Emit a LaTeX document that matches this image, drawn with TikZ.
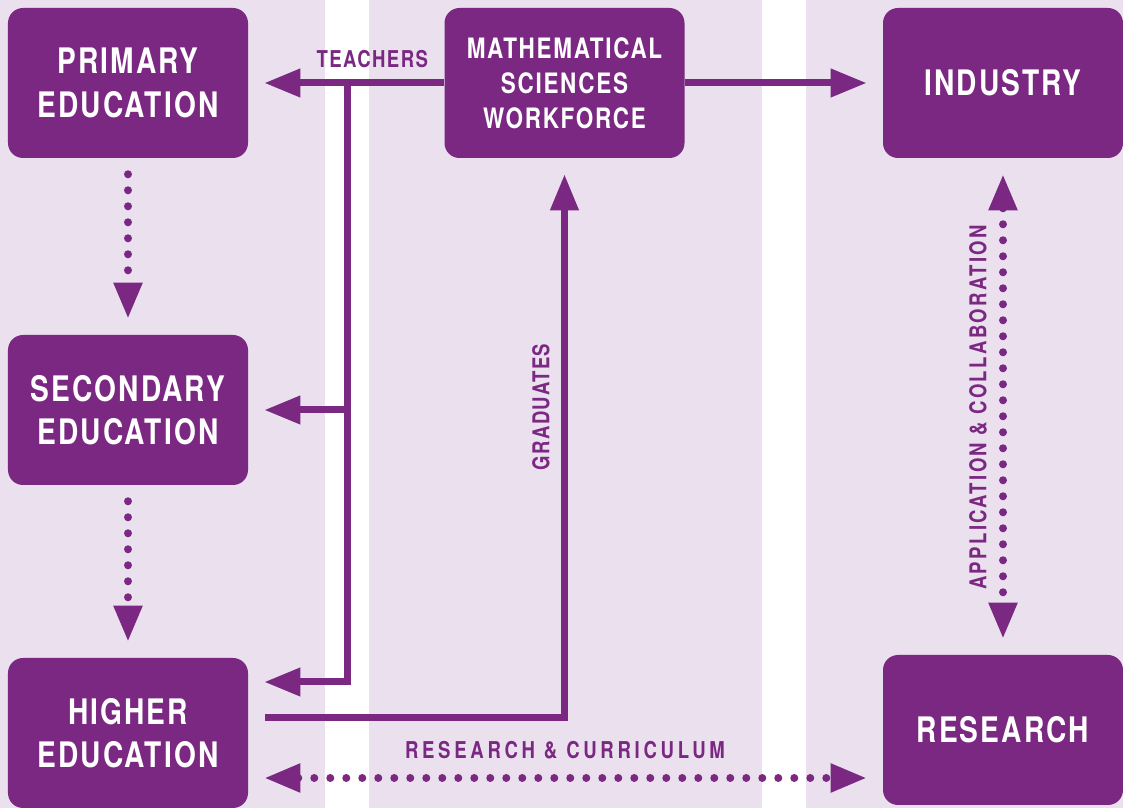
\documentclass[tikz,border=0pt]{standalone}
\usepackage{fontspec}
\usepackage{tikz}
\usetikzlibrary{
    arrows.meta,
    calc
}
\newfontfamily\boxfont{TeX Gyre Heros}[FakeStretch=0.8, LetterSpace=6]
\newfontfamily\labelfont{TeX Gyre Heros}[FakeStretch=0.8, LetterSpace=6]
\definecolor{mathpurple}{RGB}{122,40,130}
\definecolor{lavender}{RGB}{234,224,238}

\begin{document}
\begin{tikzpicture}[
        >={Triangle[length=0.9cm, width=0.675cm]},
        block/.style={fill=mathpurple, rounded corners=0.375cm, minimum width=6cm, minimum height=3.75cm,
            text=white, align=center, font=\boxfont\bfseries\fontsize{25}{31}\selectfont},
        flow/.style={draw=mathpurple, line width=0.175cm, shorten >=0.4cm},
        dotflow/.style={flow, line width=0.2cm, shorten <=0.4cm, line cap=round, dash pattern=on 0pt off 0.4cm},
        tag/.style={text=mathpurple, inner sep=0pt, font=\labelfont\bfseries\fontsize{16.5}{19}\selectfont}
    ]
        % Background with two white bands
        \useasboundingbox (0,0) rectangle (28.075,20.2);
        \fill[lavender] (0,0) rectangle (28.075,20.2);
        \foreach \x in {8.125,19.05}
            \fill[white] (\x,0) rectangle ++(1.1,20.2);

        % Boxes
        \node[block] (prim) at (3.2,18.125) {PRIMARY\\EDUCATION};
        \node[block] (sec) at (3.2,9.95) {SECONDARY\\EDUCATION};
        \node[block] (high) at (3.2,1.875) {HIGHER\\EDUCATION};
        \node[block, font=\boxfont\bfseries\fontsize{20}{25}\selectfont] (msw) at (14.1125,18.125) {MATHEMATICAL\\SCIENCES\\WORKFORCE};
        \node[block] (ind) at (25.075,18.125) {INDUSTRY};
        \node[block] (res) at (25.075,1.95) {RESEARCH};

        % Teachers going out to each level of education
        \coordinate (trunk) at (8.675,18.125);
        \draw[flow, ->] (msw.west) -- (prim.east);
        \draw[flow, ->] (trunk) |- ([yshift=1.275cm]high.east);
        \draw[flow, ->] (trunk |- sec.east) -- (sec.east);
        \node[tag, anchor=base east] (teachers) at ([shift={(-0.4,0.375)}]msw.west) {TEACHERS};

        % Workforce into industry
        \draw[flow, ->] (msw.east) -- (ind.west);

        % Graduates back up to the workforce
        \draw[flow, ->] ([shift={(0.425,0.375)}]high.east) -| (msw.south);
        \node[tag, rotate=90] (grads) at (13.525,10.025) {GRADUATES};

        % Dotted links
        \draw[dotflow, ->] (prim.south) -- (sec.north);
        \draw[dotflow, ->] (sec.south) -- (high.north);
        \draw[dotflow, <->] (ind.south) -- (res.north);
        \node[tag, rotate=90] (appl) at (24.45,10.0125) {\addfontfeature{LetterSpace=10}APPLICATION \& COLLABORATION};

        \coordinate (rc) at ([yshift=-1.125cm]high.east);
        \draw[dotflow, <->] (rc) -- (rc -| res.west);
        \node[tag] (rclabel) at (14.125,1.4375) {\addfontfeature{LetterSpace=16}RESEARCH \& CURRICULUM};

    \end{tikzpicture}
\end{document}
